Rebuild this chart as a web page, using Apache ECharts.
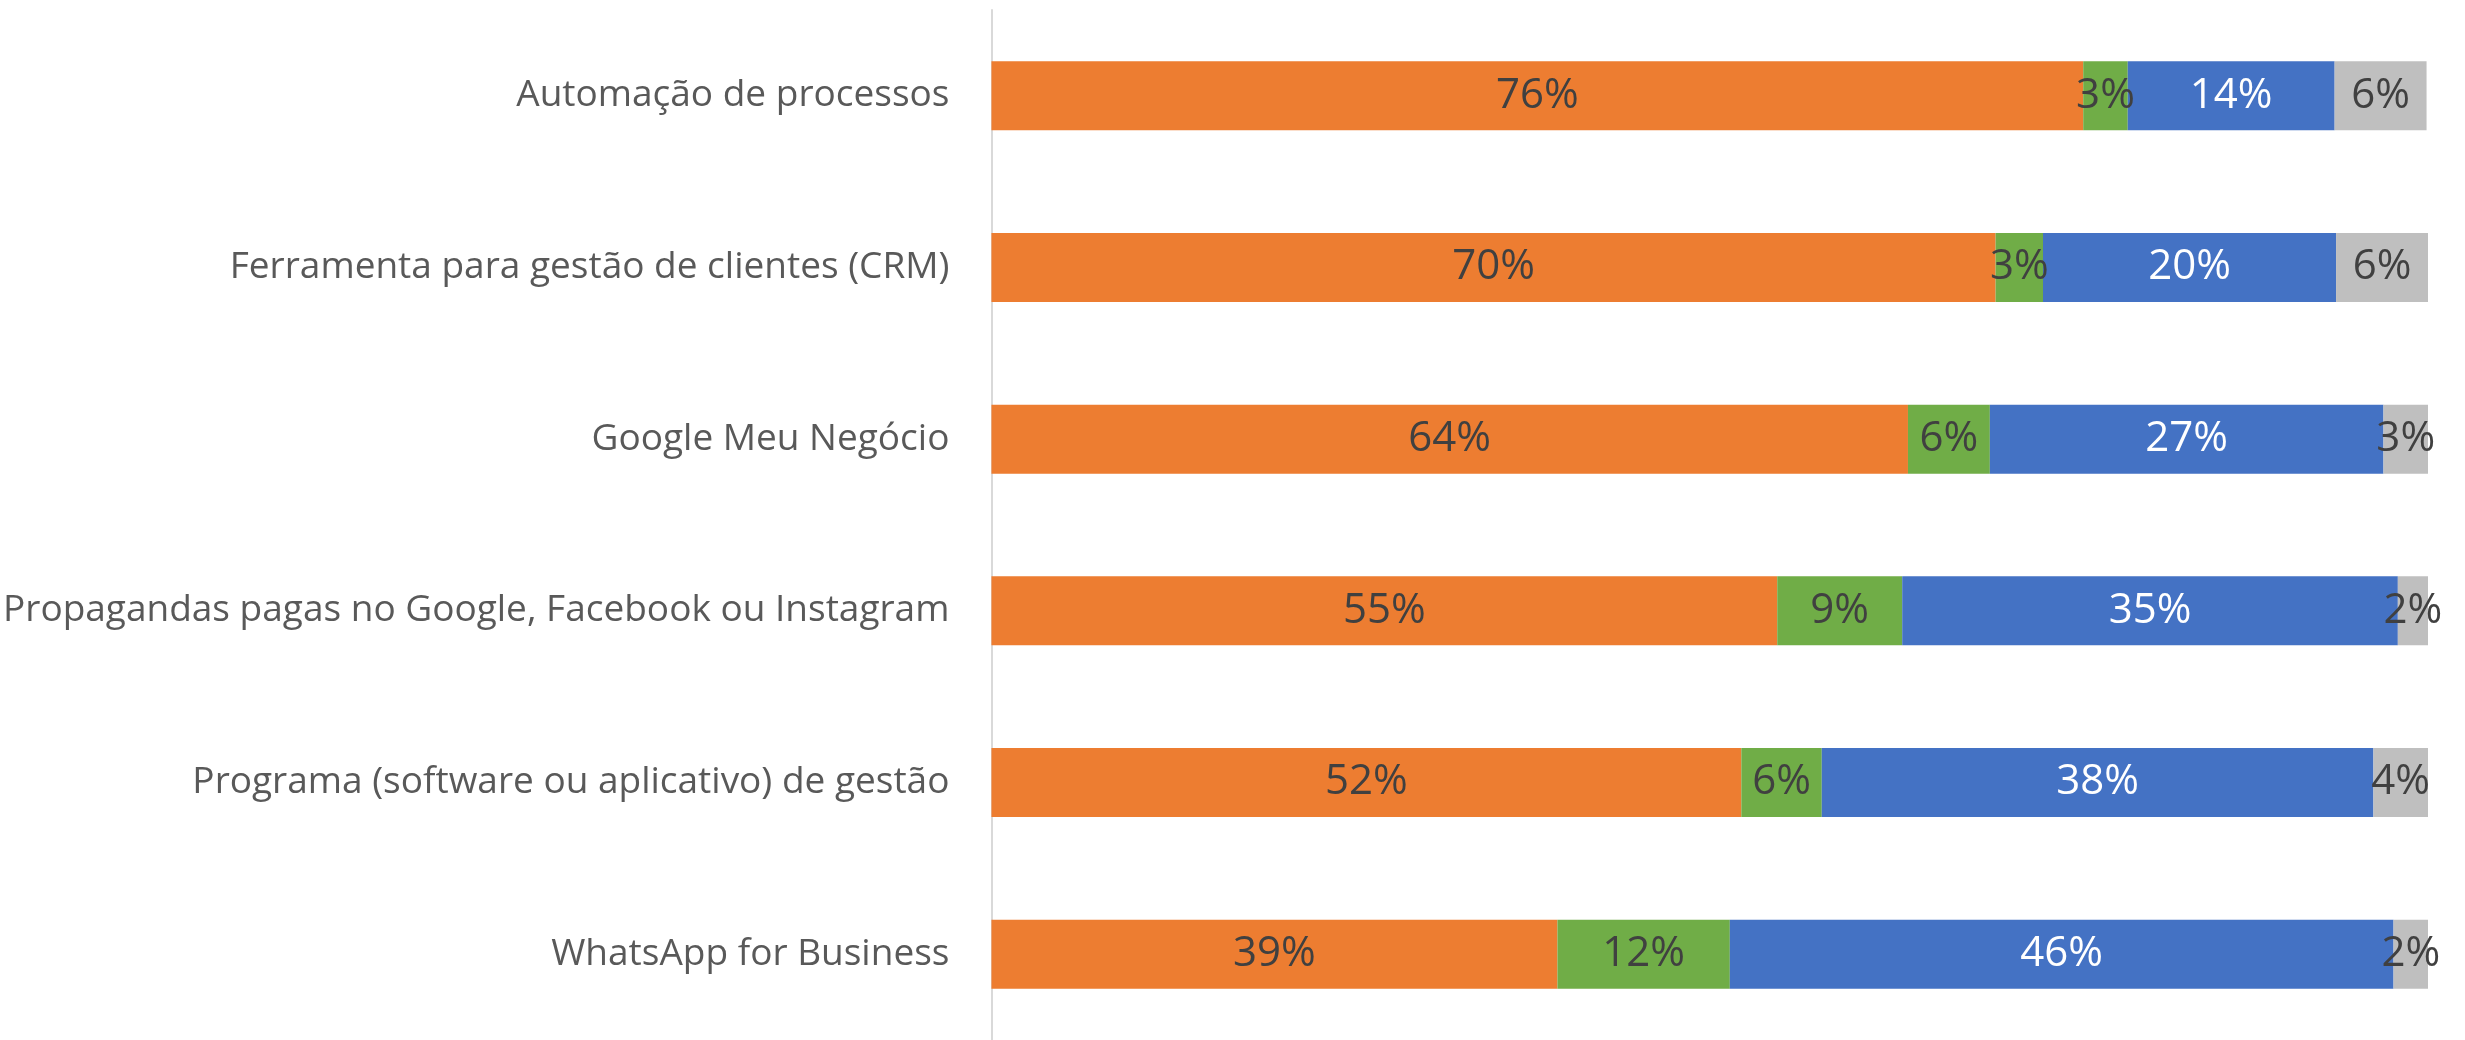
<!DOCTYPE html>
<html>
<head>
<meta charset="utf-8">
<script src="https://cdn.jsdelivr.net/npm/echarts@6/dist/echarts.min.js"></script>
<style>
  html, body { margin: 0; padding: 0; background: #ffffff; }
  #chart { width: 2465px; height: 1040px; }
</style>
</head>
<body>
<div id="chart"></div>
<script>
const categories = [
  "Automação de processos",
  "Ferramenta para gestão de clientes (CRM)",
  "Google Meu Negócio",
  "Propagandas pagas no Google, Facebook ou Instagram",
  "Programa (software ou aplicativo) de gestão",
  "WhatsApp for Business"
];
const seriesNames = ["Série 1", "Série 2", "Série 3", "Série 4"];
const orangeValues = [76.0, 69.9, 63.8, 54.7, 52.2, 39.4];
const greenValues  = [3.1, 3.3, 5.7, 8.7, 5.6, 12.0];
const blueValues   = [14.4, 20.4, 27.4, 34.5, 38.4, 46.2];
const grayValues   = [6.4, 6.4, 3.1, 2.1, 3.8, 2.4];

const colors = ["#ED7D31", "#70AD47", "#4472C4", "#BFBFBF"];
const labelColors = ["#404040", "#404040", "#FFFFFF", "#404040"];
const allValues = [orangeValues, greenValues, blueValues, grayValues];

const chart = echarts.init(document.getElementById('chart'), null, { renderer: 'canvas' });
const option = {
  animation: false,
  backgroundColor: '#ffffff',
  grid: { left: 991, right: 37, top: 10, bottom: 0, containLabel: false },
  xAxis: {
    type: 'value', min: 0, max: 100,
    show: false
  },
  yAxis: {
    type: 'category',
    data: categories,
    inverse: true,
    axisLine: { show: true, lineStyle: { color: '#D9D9D9', width: 2 } },
    axisTick: { show: false },
    splitLine: { show: false },
    axisLabel: {
      margin: 42,
      color: '#595959',
      fontFamily: 'Open Sans',
      fontSize: 37
    }
  },
  series: allValues.map((vals, i) => ({
    name: seriesNames[i],
    type: 'bar',
    stack: 'total',
    data: vals,
    barWidth: 69,
    itemStyle: { color: colors[i] },
    label: {
      show: true,
      position: 'inside',
      color: labelColors[i],
      fontFamily: 'Open Sans',
      fontSize: 42,
      formatter: p => Math.round(p.value) + '%'
    }
  }))
};
chart.setOption(option);
</script>
</body>
</html>
